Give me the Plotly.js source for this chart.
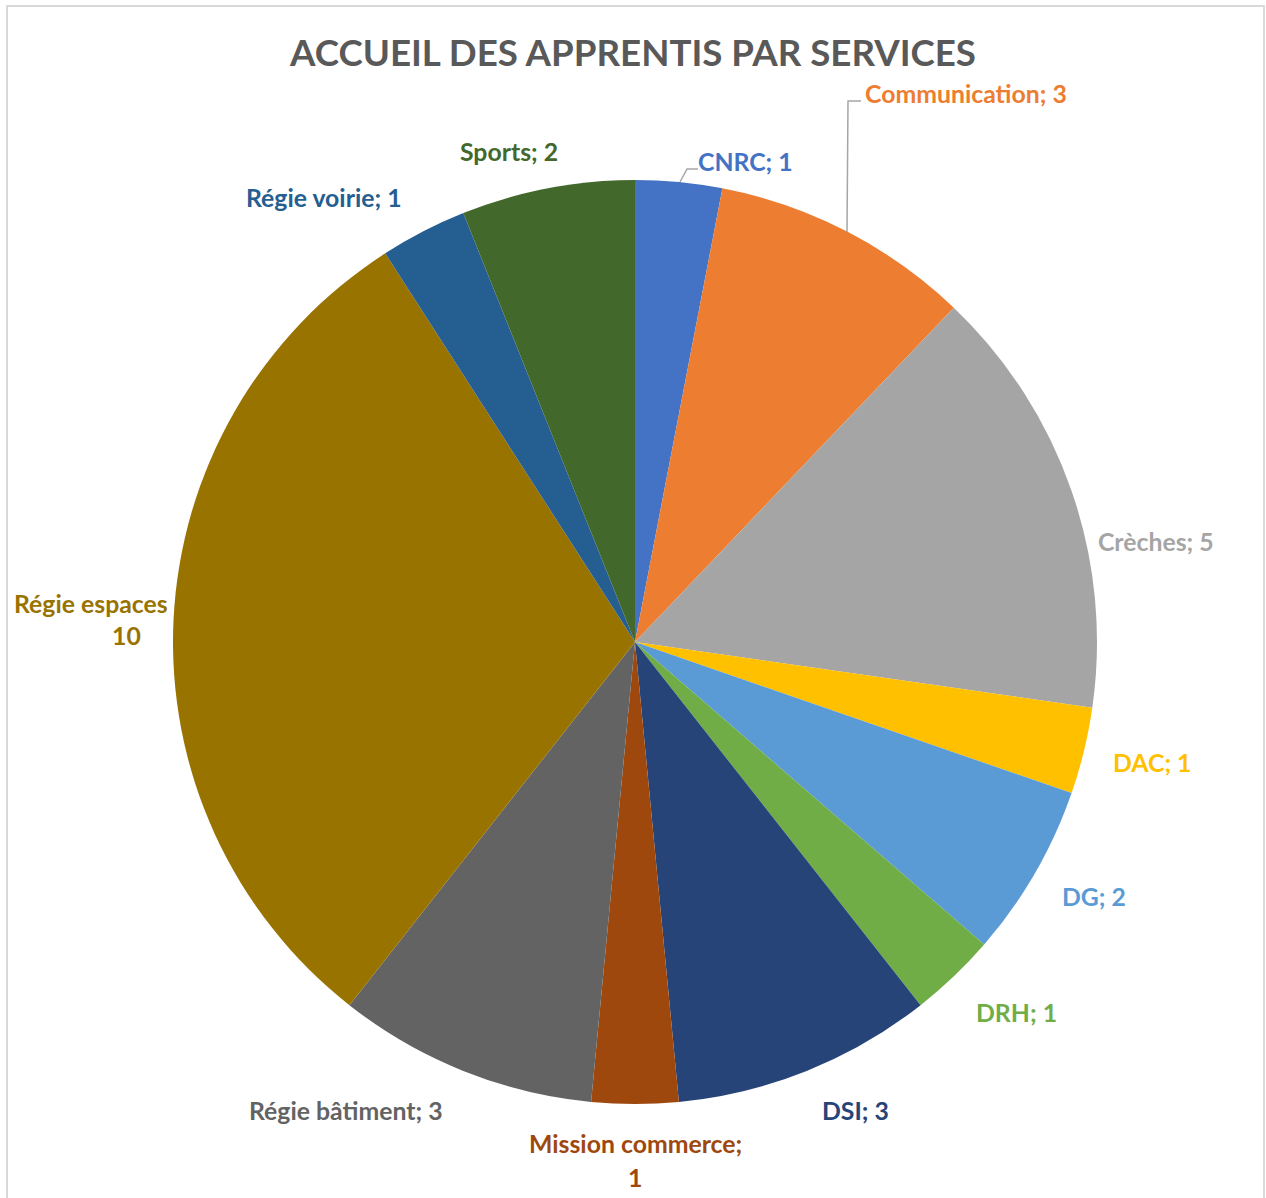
<!DOCTYPE html>
<html>
<head>
<meta charset="utf-8">
<script src="https://cdn.plot.ly/plotly-3.0.1.min.js"></script>
<style>
  body { margin: 0; background: #fff; }
  #chart { position: absolute; left: 0; top: 0; width: 1266px; height: 1198px; }
  #frame { position: absolute; left: 6px; top: 5px; width: 1255px; height: 1200px;
           border: 2px solid #d9d9d9; pointer-events: none; }
</style>
</head>
<body>
<div id="chart"></div>
<div id="frame"></div>
<script>
// Services et nombre d'apprentis
var services = ['CNRC', 'Communication', 'Crèches', 'DAC', 'DG', 'DRH', 'DSI',
  'Mission commerce', 'Régie bâtiment', 'Régie espaces', 'Régie voirie', 'Sports'];
var apprentis = [1, 3, 5, 1, 2, 1, 3, 1, 3, 10, 1, 2];

var couleurs = ['#4472C4', '#ED7D31', '#A5A5A5', '#FFC000', '#5B9BD5', '#70AD47',
  '#264478', '#9E480E', '#636363', '#997300', '#255E91', '#43682B'];

var W = 1266, H = 1198;
function px(x) { return x / W; }
function py(y) { return 1 - y / H; }

// position des étiquettes (centre du texte, en pixels)
var etiquettes = [
  { x: 745, y: 161 },
  { x: 966, y: 93 },
  { x: 1156, y: 541 },
  { x: 1152, y: 762 },
  { x: 1094, y: 896 },
  { x: 1016, y: 1012 },
  { x: 855, y: 1110 },
  { x: 635, y: 1143, x2: 635, y2: 1177 },
  { x: 346, y: 1110 },
  { x: 91, y: 603, x2: 126, y2: 635, sansPoint: true },
  { x: 324, y: 197 },
  { x: 509, y: 152 }
];

var police = 'Lato, "Open Sans", sans-serif';
var annotations = [];
services.forEach(function (s, i) {
  var e = etiquettes[i];
  var f = { family: police, size: 24.8, color: couleurs[i], weight: 700 };
  if (e.x2 !== undefined) {
    annotations.push({ text: '<b>' + s + (e.sansPoint ? '' : ';') + '</b>', x: px(e.x), y: py(e.y),
      xref: 'paper', yref: 'paper', showarrow: false, xanchor: 'center', yanchor: 'middle', font: f });
    annotations.push({ text: '<b>' + apprentis[i] + '</b>', x: px(e.x2), y: py(e.y2),
      xref: 'paper', yref: 'paper', showarrow: false, xanchor: 'center', yanchor: 'middle', font: f });
  } else {
    annotations.push({ text: '<b>' + s + '; ' + apprentis[i] + '</b>', x: px(e.x), y: py(e.y),
      xref: 'paper', yref: 'paper', showarrow: false, xanchor: 'center', yanchor: 'middle', font: f });
  }
});

var data = [{
  type: 'pie',
  labels: services,
  values: apprentis,
  sort: false,
  direction: 'clockwise',
  rotation: 0,
  textinfo: 'none',
  hoverinfo: 'label+value',
  marker: { colors: couleurs, line: { width: 0 } },
  domain: { x: [px(173), px(1097)], y: [py(1104), py(180)] },
  showlegend: false
}];

var layout = {
  width: W,
  height: H,
  margin: { l: 0, r: 0, t: 0, b: 0 },
  paper_bgcolor: '#ffffff',
  title: {
    text: '<b>ACCUEIL DES APPRENTIS PAR SERVICES</b>',
    x: 0.5, xanchor: 'center',
    y: py(53), yanchor: 'middle',
    font: { family: police, size: 36.7, color: '#595959' }
  },
  annotations: annotations,
  // traits de rappel (CNRC, Communication)
  shapes: [
    { type: 'path', xref: 'paper', yref: 'paper',
      path: 'M ' + px(680) + ' ' + py(182) + ' L ' + px(687) + ' ' + py(169) + ' L ' + px(698) + ' ' + py(169),
      line: { color: '#a6a6a6', width: 1.5 } },
    { type: 'path', xref: 'paper', yref: 'paper',
      path: 'M ' + px(847) + ' ' + py(232) + ' L ' + px(848) + ' ' + py(101) + ' L ' + px(861) + ' ' + py(101),
      line: { color: '#a6a6a6', width: 1.5 } }
  ]
};

Plotly.newPlot('chart', data, layout, { displayModeBar: false, staticPlot: true });
</script>
</body>
</html>
